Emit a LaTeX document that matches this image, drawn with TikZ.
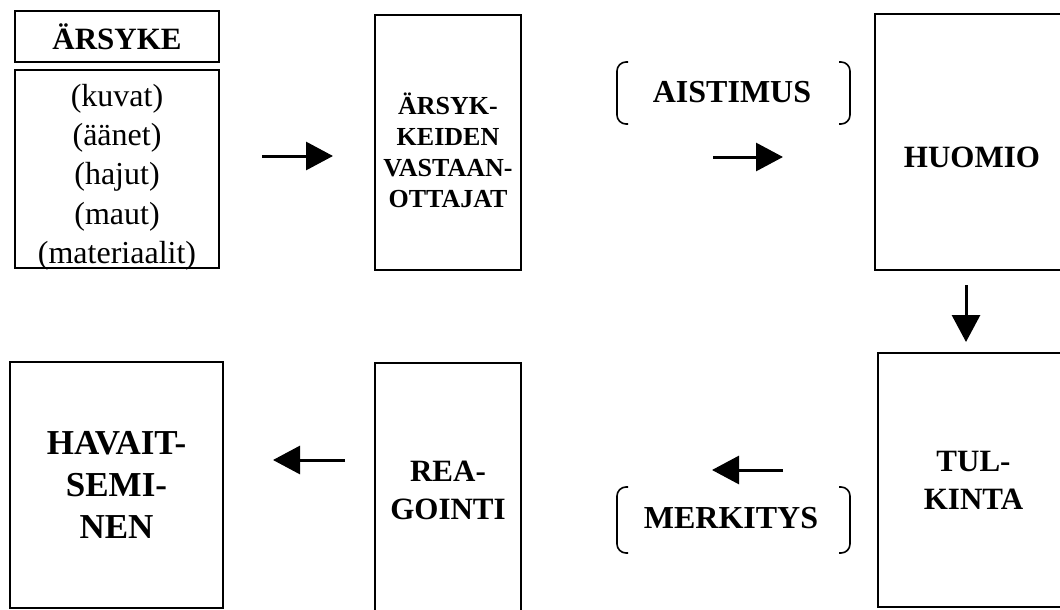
\documentclass[tikz,border=0pt]{standalone}
\usepackage{fontspec}
\setmainfont{Liberation Serif}
\usetikzlibrary{arrows.meta}
\begin{document}
\begin{tikzpicture}[x=1pt,y=-1pt,
  box/.style={draw, line width=2.4pt, inner sep=0pt, align=center},
  lbl/.style={font=\fontsize{31}{38}\selectfont\bfseries, align=center},
  mlbl/.style={font=\fontsize{32}{38}\selectfont\bfseries, align=center},
  smlbl/.style={font=\fontsize{26}{31}\selectfont\bfseries, align=center},
  biglbl/.style={font=\fontsize{35}{42}\selectfont\bfseries, align=center},
  item/.style={font=\fontsize{32}{39}\selectfont, anchor=base, inner sep=0pt},
  conn/.style={line width=3pt, -{Triangle[length=27pt,width=28pt]}},
  paren/.style={line width=1.6pt, rounded corners=9pt}]
\useasboundingbox (0,0) rectangle (1060,610);

% top row
\node[box, lbl, minimum width=204pt, minimum height=51pt] (title) at (117,36.5) {ÄRSYKE};
\node[box, minimum width=204pt, minimum height=198pt] (list) at (117,169) {};
\begin{scope}
  \clip (list.north west) rectangle (list.south east);
  \node[item] (l1) at (117,106) {(kuvat)};
  \node[item] (l2) at (117,145) {(äänet)};
  \node[item] (l3) at (117,184) {(hajut)};
  \node[item] (l4) at (117,224) {(maut)};
  \node[item] (l5) at (117,263) {(materiaalit)};
\end{scope}

\node[box, minimum width=146pt, minimum height=255pt] (recv) at (448,142.5) {};
\node[smlbl, inner sep=0pt] (recvtxt) at (448,150) {ÄRSYK-\\KEIDEN\\VASTAAN-\\OTTAJAT};

\node[mlbl, inner sep=0pt] (aist) at (732,92) {AISTIMUS};
\draw[paren] (628,62) -- (617,62) -- (617,124) -- (628,124);
\draw[paren] (839,62) -- (850,62) -- (850,124) -- (839,124);

\node[box, minimum width=194pt, minimum height=256pt] (huomio) at (972,142) {};
\node[lbl, inner sep=0pt] (huomiotxt) at (972,157) {HUOMIO};

% bottom row
\node[box, lbl, minimum width=191pt, minimum height=254pt] (tulk) at (973.5,480) {TUL-\\KINTA};

\node[mlbl, inner sep=0pt] (merk) at (731,518) {MERKITYS};
\draw[paren] (628,487) -- (617,487) -- (617,553) -- (628,553);
\draw[paren] (839,487) -- (850,487) -- (850,553) -- (839,553);

\node[box, lbl, minimum width=146pt, minimum height=254pt] (reag) at (448,490) {REA-\\GOINTI};

\node[box, biglbl, minimum width=213pt, minimum height=246pt] (hav) at (116.5,485) {HAVAIT-\\SEMI-\\NEN};

% connectors
\coordinate (a1s) at (262,156);  \coordinate (a1e) at (333,156);
\coordinate (a2s) at (713,157);  \coordinate (a2e) at (783,157);
\coordinate (a3s) at (966,285);  \coordinate (a3e) at (966,342);
\coordinate (a4s) at (783,470);  \coordinate (a4e) at (712,470);
\coordinate (a5s) at (345,460);  \coordinate (a5e) at (273,460);
\draw[conn] (a1s) -- (a1e);
\draw[conn] (a2s) -- (a2e);
\draw[conn] (a3s) -- (a3e);
\draw[conn] (a4s) -- (a4e);
\draw[conn] (a5s) -- (a5e);
\end{tikzpicture}
\end{document}
